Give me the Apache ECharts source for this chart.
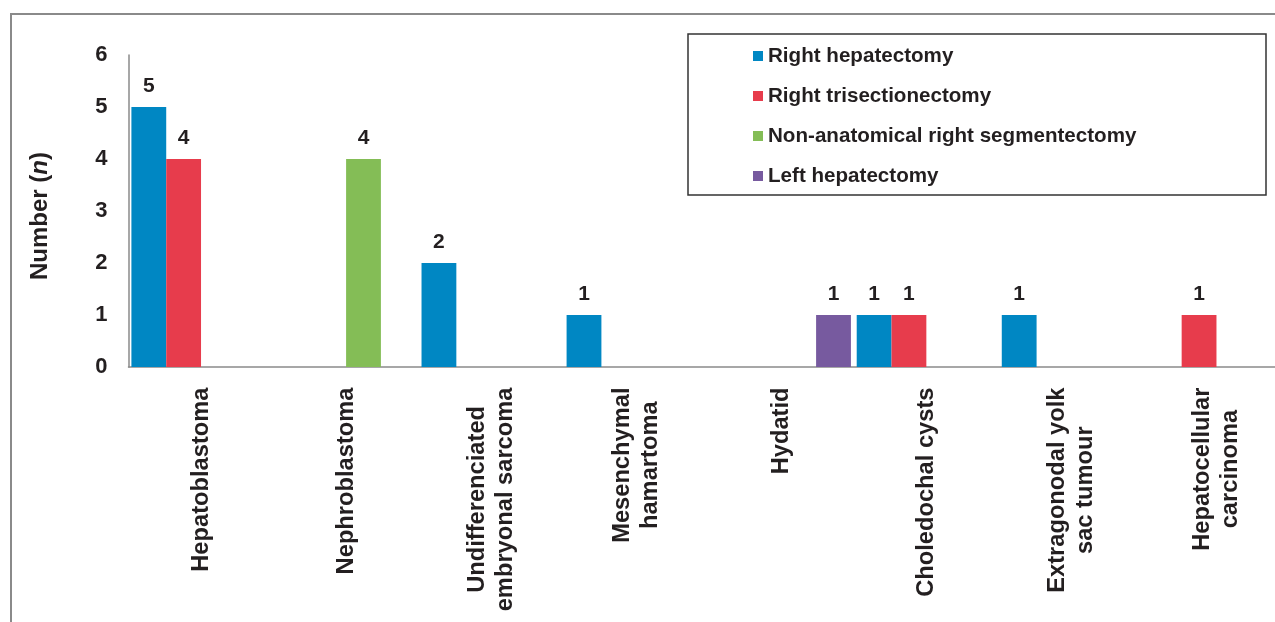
<!DOCTYPE html>
<html>
<head>
<meta charset="utf-8">
<script src="https://cdn.jsdelivr.net/npm/echarts@6/dist/echarts.min.js"></script>
<style>
html,body{margin:0;padding:0;background:#fff;}
#frame{position:absolute;left:10px;top:13px;right:0;bottom:0;border-top:2px solid #8a8a8a;border-left:2px solid #8a8a8a;}
#chart{position:absolute;left:0;top:0;width:1275px;height:622px;}
</style>
</head>
<body>
<div id="frame"></div>
<div id="chart"></div>
<script>
const categories = [
  'Hepatoblastoma',
  'Nephroblastoma',
  'Undifferenciated\nembryonal sarcoma',
  'Mesenchymal\nhamartoma',
  'Hydatid',
  'Choledochal cysts',
  'Extragonodal yolk\nsac tumour',
  'Hepatocellular\ncarcinoma'
];
const seriesNames = ['Right hepatectomy', 'Right trisectionectomy', 'Non-anatomical right segmentectomy', 'Left hepatectomy'];
const rightHepatectomy     = [5, 0, 2, 1, 0, 1, 1, 0];
const rightTrisection      = [4, 0, 0, 0, 0, 1, 0, 1];
const nonAnatomicalRight   = [0, 4, 0, 0, 0, 0, 0, 0];
const leftHepatectomy      = [0, 0, 0, 0, 1, 0, 0, 0];
const yTicks = [0, 1, 2, 3, 4, 5, 6];
const colors = ['#0087C3', '#E73C4C', '#84BD56', '#775A9F'];

const FONT = '"Liberation Sans", Arial, sans-serif';
const TXT = '#231f20';
const XFS = 23.7;
const LFS = 20.6;

const cvs = document.createElement('canvas');
const ctx = cvs.getContext('2d');
function measure(text, size) {
  ctx.font = 'bold ' + size + 'px ' + FONT;
  return ctx.measureText(text).width;
}

// per-label rich styles so multi-line labels are centred line by line
const xRich = {};
categories.forEach((c, i) => {
  const w = Math.max(...c.split('\n').map(l => measure(l, XFS))) + 1;
  xRich['r' + i] = { width: w, align: 'center', fontSize: XFS, fontWeight: 'bold', fontFamily: FONT, color: TXT, lineHeight: 28 };
});

const legendTextW = Math.max(...seriesNames.map(n => measure(n, LFS)));
const legendPadRight = Math.max(10, 578 - 65 - 10 - 5 - legendTextW);

const allData = [rightHepatectomy, rightTrisection, nonAnatomicalRight, leftHepatectomy];

const chart = echarts.init(document.getElementById('chart'));
chart.setOption({
  animation: false,
  backgroundColor: 'transparent',
  textStyle: { fontFamily: FONT },
  legend: {
    data: seriesNames,
    orient: 'vertical',
    left: 688,
    top: 34,
    icon: 'rect',
    itemWidth: 10,
    itemHeight: 10,
    itemGap: 16,
    padding: [10, legendPadRight, 7, 65],
    borderColor: '#333',
    borderWidth: 1.5,
    textStyle: { fontSize: LFS, fontWeight: 'bold', color: TXT, fontFamily: FONT, lineHeight: 24 }
  },
  grid: { left: 128.5, top: 55, bottom: 255, right: -14, outerBoundsMode: 'none', containLabel: false },
  xAxis: {
    type: 'category',
    data: categories,
    axisLine: { lineStyle: { color: '#8a8a8a', width: 1.5 } },
    axisTick: { show: false },
    axisLabel: {
      interval: 0,
      rotate: 90,
      margin: 20,
      formatter: (v, i) => v.split('\n').map(l => '{r' + i + '|' + l + '}').join('\n'),
      rich: xRich
    }
  },
  yAxis: {
    type: 'value',
    min: yTicks[0],
    max: yTicks[yTicks.length - 1],
    interval: 1,
    name: 'Number ({i|n})',
    nameLocation: 'middle',
    nameRotate: 90,
    nameGap: 76,
    nameTextStyle: { fontSize: 24, fontWeight: 'bold', color: TXT, fontFamily: FONT, padding: [0, 10, 0, 0], rich: { i: { fontStyle: 'italic', fontSize: 24, fontWeight: 'bold', color: TXT, fontFamily: FONT } } },
    axisLine: { show: true, lineStyle: { color: '#8a8a8a', width: 1.5 } },
    axisTick: { show: false },
    splitLine: { show: false },
    axisLabel: { fontSize: 22, fontWeight: 'bold', color: TXT, margin: 21, fontFamily: FONT }
  },
  series: seriesNames.map((n, k) => ({
    name: n,
    type: 'bar',
    data: allData[k],
    barGap: 0,
    barCategoryGap: '4%',
    itemStyle: { color: colors[k] },
    label: {
      show: true,
      position: 'top',
      distance: 10,
      fontSize: 21,
      fontWeight: 'bold',
      color: TXT,
      fontFamily: FONT,
      formatter: p => (p.value ? String(p.value) : '')
    }
  }))
});
</script>
</body>
</html>
